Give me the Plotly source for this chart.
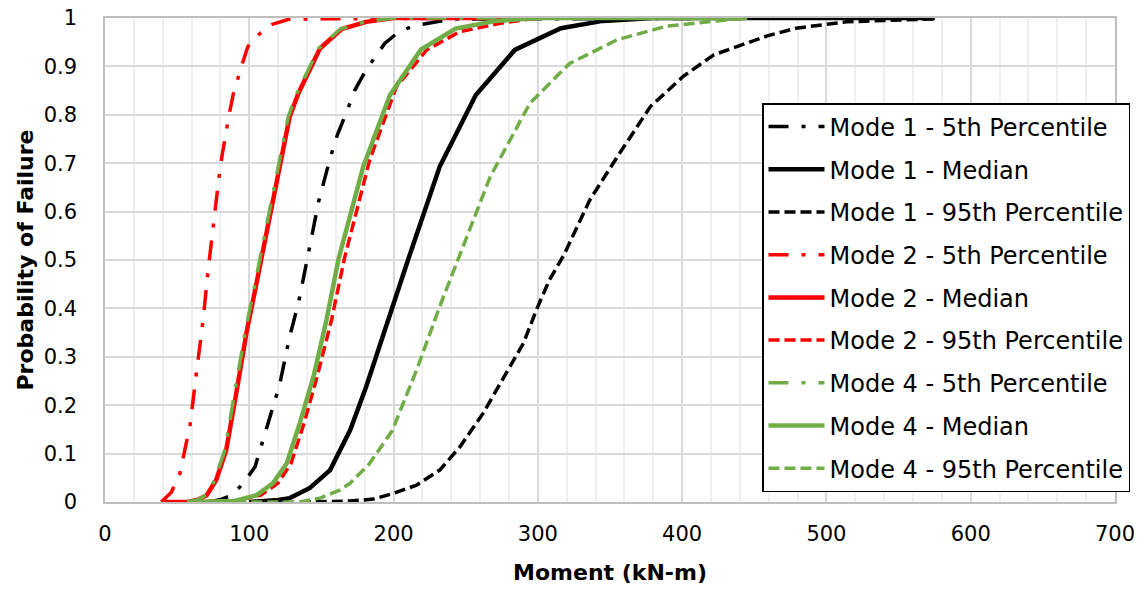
import plotly.graph_objects as go

# ---- data (Moment kN-m vs probability of failure) ----
m1_p5_x = [72, 80, 88, 96, 104, 114, 121, 128, 134, 141, 148, 156, 161, 168, 173, 181, 194, 204, 214, 226, 240, 575]
m1_p5_y = [0, 0.005, 0.014, 0.039, 0.073, 0.17, 0.242, 0.342, 0.41, 0.514, 0.62, 0.71, 0.758, 0.81, 0.85, 0.893, 0.948, 0.972, 0.984, 0.99, 0.998, 1]

m1_med_x = [100, 120, 128, 135, 142, 156, 170, 181, 193, 204, 210, 232, 257, 284, 316, 345, 380, 575]
m1_med_y = [0, 0.004, 0.008, 0.018, 0.029, 0.066, 0.149, 0.238, 0.348, 0.452, 0.5, 0.693, 0.841, 0.934, 0.979, 0.994, 1, 1]

m1_p95_x = [135, 170, 186, 200, 216, 232, 246, 262, 278, 290, 299, 308, 318, 336, 355, 378, 401, 422, 438, 459, 479, 500, 514, 540, 575]
m1_p95_y = [0, 0.002, 0.006, 0.018, 0.035, 0.066, 0.114, 0.183, 0.266, 0.328, 0.397, 0.459, 0.51, 0.624, 0.713, 0.817, 0.88, 0.924, 0.941, 0.963, 0.979, 0.986, 0.992, 0.995, 0.998]

m2_p5_x = [39, 46, 52, 59, 63.5, 68, 71.5, 76, 80, 86, 89, 95, 99, 108, 116, 128, 300]
m2_p5_y = [0, 0.02, 0.06, 0.16, 0.27, 0.376, 0.48, 0.59, 0.696, 0.8, 0.844, 0.904, 0.941, 0.97, 0.987, 0.998, 1]

m2_med_x = [39, 57, 64, 70.5, 77, 84, 91, 98, 105, 112, 121, 128, 134, 149, 164, 181, 200, 300]
m2_med_y = [0, 0, 0.004, 0.014, 0.045, 0.107, 0.225, 0.349, 0.452, 0.555, 0.693, 0.796, 0.844, 0.937, 0.977, 0.992, 1, 1]

m2_p95_x = [39, 90, 108, 120, 129, 138, 147, 157, 166, 183.5, 202, 223, 246, 274, 300]
m2_p95_y = [0, 0.002, 0.014, 0.039, 0.08, 0.163, 0.259, 0.376, 0.504, 0.707, 0.858, 0.934, 0.972, 0.989, 1]

m4_p5_x = [57, 64, 70, 76, 83, 90, 97, 104, 111, 120, 127, 133, 148, 163, 180, 200, 445]
m4_p5_y = [0, 0.004, 0.014, 0.045, 0.107, 0.225, 0.349, 0.452, 0.555, 0.693, 0.796, 0.844, 0.937, 0.977, 0.992, 1, 1]

m4_med_x = [57, 90, 105, 116.5, 126, 135, 144.5, 153.5, 162, 179, 197.5, 219, 243, 271, 300, 445]
m4_med_y = [0, 0.002, 0.014, 0.039, 0.08, 0.163, 0.259, 0.376, 0.504, 0.693, 0.841, 0.935, 0.978, 0.994, 1, 1]

m4_p95_x = [57, 135, 149, 163, 170, 183, 199, 216, 232, 246, 267, 294.5, 322, 355, 389, 424, 445]
m4_p95_y = [0, 0, 0.008, 0.025, 0.039, 0.078, 0.147, 0.273, 0.404, 0.51, 0.672, 0.824, 0.906, 0.955, 0.983, 0.994, 1]

names = ["Mode 1 - 5th Percentile", "Mode 1 - Median", "Mode 1 - 95th Percentile",
         "Mode 2 - 5th Percentile", "Mode 2 - Median", "Mode 2 - 95th Percentile",
         "Mode 4 - 5th Percentile", "Mode 4 - Median", "Mode 4 - 95th Percentile"]
xs = [m1_p5_x, m1_med_x, m1_p95_x, m2_p5_x, m2_med_x, m2_p95_x, m4_p5_x, m4_med_x, m4_p95_x]
ys = [m1_p5_y, m1_med_y, m1_p95_y, m2_p5_y, m2_med_y, m2_p95_y, m4_p5_y, m4_med_y, m4_p95_y]

BLACK, RED, GREEN = "#000000", "#FF0000", "#70AD47"
colors = [BLACK] * 3 + [RED] * 3 + [GREEN] * 3
DASHDOT = "20px,13px,4px,13px"
DASH = "11px,5px"
styles = [(DASHDOT, 3.5), ("solid", 4.5), (DASH, 3.5)] * 3

fig = go.Figure()
for i in range(9):
    d, w = styles[i]
    fig.add_trace(go.Scatter(
        x=xs[i], y=ys[i], mode="lines", name=names[i], legendgroup=f"g{i}",
        line=dict(color=colors[i], width=w, dash=d),
    ))

FONT = "DejaVu Sans"
fig.update_layout(
    width=1145, height=590,
    margin=dict(l=105, r=30, t=18, b=88, autoexpand=False),
    paper_bgcolor="white", plot_bgcolor="white",
    font=dict(family=FONT, size=21, color="black"),
    showlegend=True,
    legend=dict(
        x=(762 - 105) / 1010, y=(502 - 103) / 484, xanchor="left", yanchor="top",
        bgcolor="white", bordercolor="black", borderwidth=1.5,
        font=dict(family=FONT, size=24, color="black"),
        traceorder="grouped", tracegroupgap=8.5, itemwidth=56,
    ),
    xaxis=dict(
        range=[0, 700], dtick=100, tick0=0, automargin=False,
        showgrid=True, gridcolor="#D9D9D9", gridwidth=1.5,
        minor=dict(dtick=20, showgrid=True, gridcolor="#F0F0F0", gridwidth=1.5),
        showline=True, linecolor="#BFBFBF", linewidth=1.5, mirror=True,
        zeroline=False, ticks="", ticklabelstandoff=12,
        tickfont=dict(family=FONT, size=21),
        title=dict(text="<b>Moment (kN-m)</b>", font=dict(family=FONT, size=22), standoff=20),
    ),
    yaxis=dict(
        range=[0, 1], dtick=0.1, tick0=0, automargin=False,
        showgrid=True, gridcolor="#D9D9D9", gridwidth=1.5,
        showline=True, linecolor="#BFBFBF", linewidth=1.5, mirror=True,
        zeroline=False, ticks="", ticklabelstandoff=22,
        tickfont=dict(family=FONT, size=21),
        title=dict(text="<b>Probability of Failure</b>", font=dict(family=FONT, size=22), standoff=4),
    ),
)

fig.write_html("out.html")
